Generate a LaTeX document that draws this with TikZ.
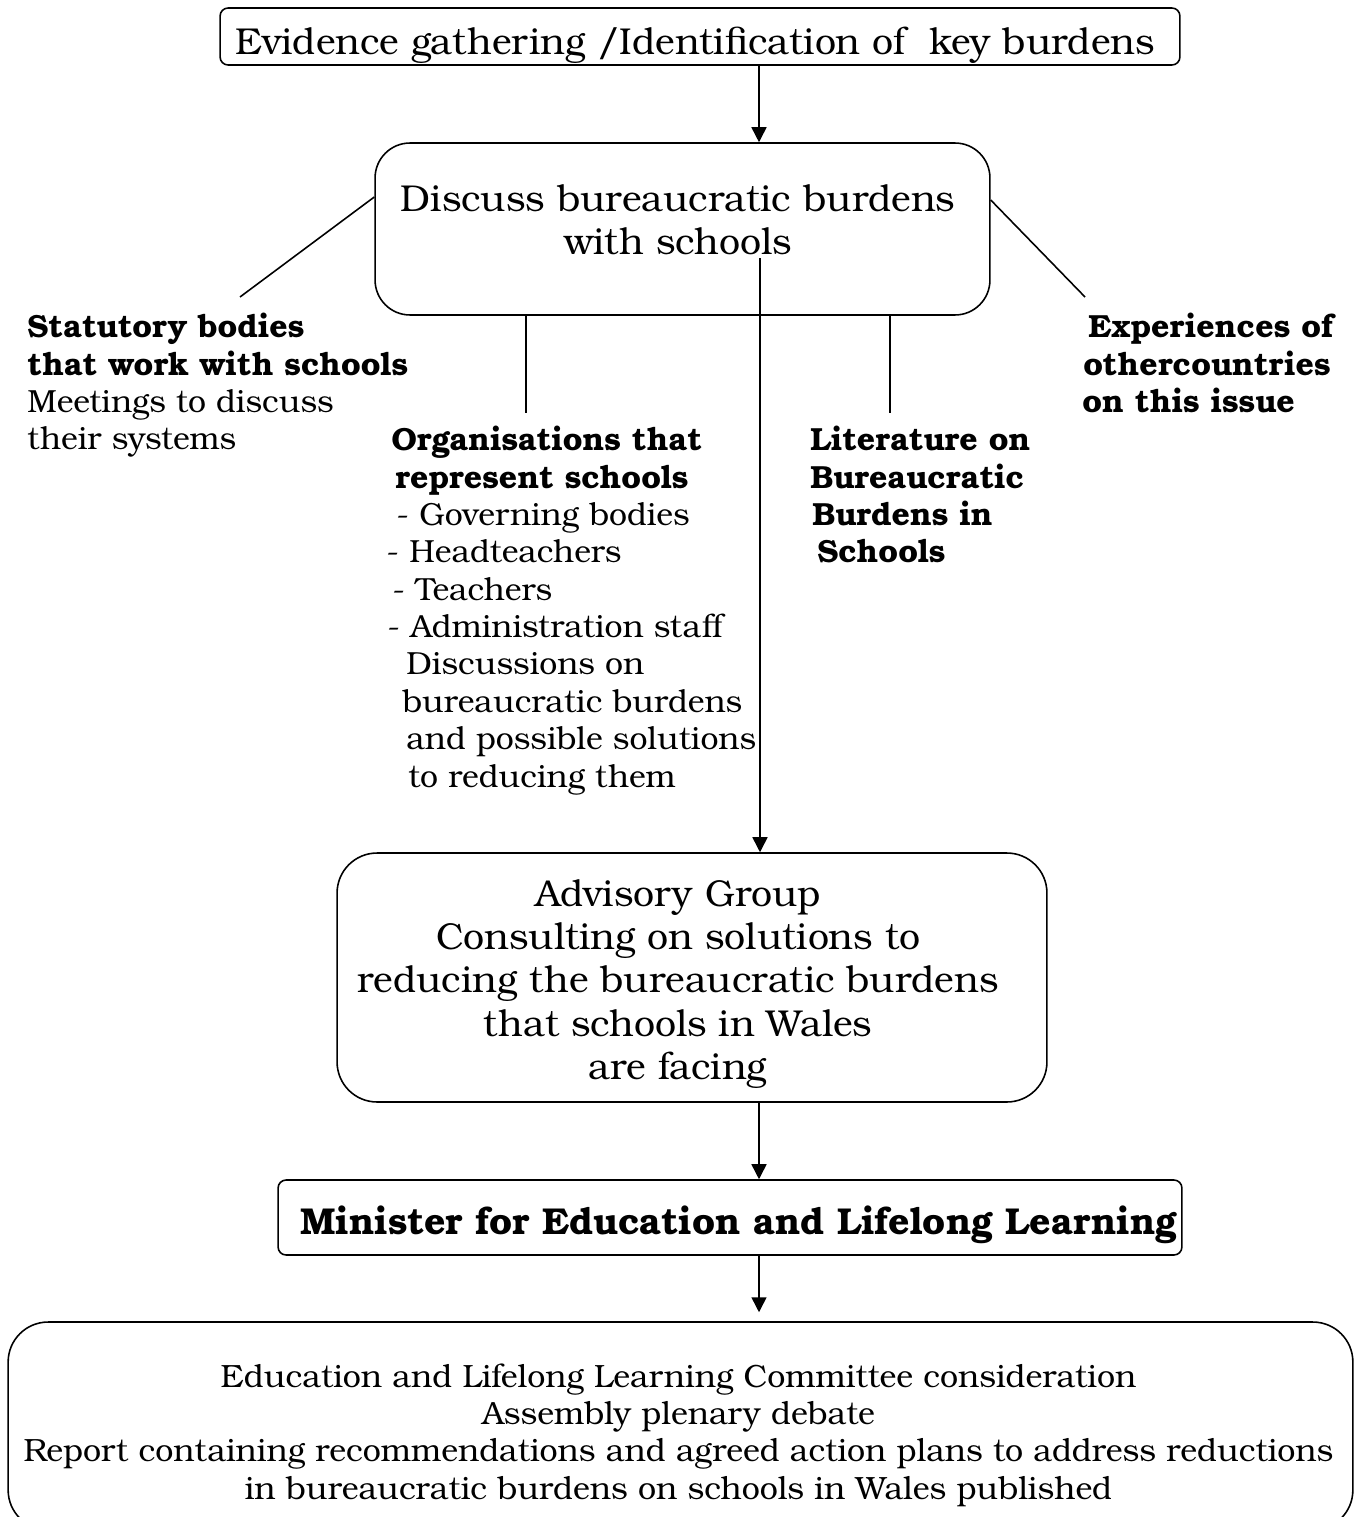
\documentclass[tikz,border=0pt]{standalone}
\usepackage{fontspec}
\setmainfont{TeX Gyre Bonum}
\usetikzlibrary{arrows.meta, positioning}

\begin{document}
\begin{tikzpicture}[
  x=0.02cm, y=-0.02cm,
  box/.style={rectangle, draw=black, line width=0.9pt, inner sep=0pt},
  big/.style={font=\fontsize{21.3}{24.7}\selectfont, align=center, inner sep=0pt},
  small/.style={font=\fontsize{18.2}{21.26}\selectfont, align=left, inner sep=0pt, anchor=north west},
  smallc/.style={font=\fontsize{18.3}{21.26}\selectfont, align=center, inner sep=0pt},
  arr/.style={-{Triangle[length=3mm, width=3mm]}, line width=0.9pt},
  link/.style={line width=0.9pt}
]
\useasboundingbox (0,0) rectangle (1361,1517);

% boxes
\node[box, rounded corners=0.16cm, minimum width=19.2cm, minimum height=1.14cm] (evidence) at (700,36.5) {};
\node[box, rounded corners=0.7cm, minimum width=12.3cm, minimum height=3.44cm] (discuss) at (682.5,229) {};
\node[box, rounded corners=0.8cm, minimum width=14.2cm, minimum height=4.98cm] (advisory) at (692,977.5) {};
\node[box, rounded corners=0.16cm, minimum width=18.08cm, minimum height=1.5cm] (minister) at (730,1217.5) {};
\node[box, rounded corners=0.8cm, minimum width=26.9cm, minimum height=4.16cm] (final) at (680.5,1426) {};

% box texts
\node[big] (evidencetext) at (695,45) {Evidence gathering /Identification of\ \ key burdens};
\node[big] (discusstext) at (678,220) {Discuss bureaucratic burdens\\with schools};
\node[big] (advisorytext) at (678,984) {Advisory Group\\Consulting on solutions to\\reducing the bureaucratic burdens\\that schools in Wales\\are facing};
\node[big] (ministertext) at (739,1225) {\textbf{Minister for Education and Lifelong Learning}};
\node[smallc] (finaltext) at (678.5,1435) {Education and Lifelong Learning Committee consideration\\Assembly plenary debate\\Report containing recommendations and agreed action plans to address reductions\\in bureaucratic burdens on schools in Wales published};

% sources round the discussion
\node[small] (statutory) at (27,313) {\textbf{Statutory bodies}\\\textbf{that work with schools}\\Meetings to discuss\\their systems};
\node[small] (organisations) at (386,426) {\hspace*{0.10cm}\textbf{Organisations that}\\
  \hspace*{0.18cm}\textbf{represent schools}\\
  \hspace*{0.20cm}- Governing bodies\\
  - Headteachers\\
  \hspace*{0.12cm}- Teachers\\
  \hspace*{0.02cm}- Administration staff\\
  \hspace*{0.40cm}Discussions on\\
  \hspace*{0.32cm}bureaucratic burdens\\
  \hspace*{0.40cm}and possible solutions\\
  \hspace*{0.44cm}to reducing them};
\node[small] (literature) at (810,426) {\textbf{Literature on}\\\textbf{Bureaucratic}\\\hspace*{0.04cm}\textbf{Burdens in}\\\hspace*{0.14cm}\textbf{Schools}};
\node[small] (experiences) at (1082,313) {\hspace*{0.12cm}\textbf{Experiences of}\\\hspace*{0.02cm}\textbf{othercountries}\\\textbf{on this issue}};

\coordinate (spine) at (759,0);
\coordinate (spinetop) at (760,258);
\coordinate (stattip) at (240,297);
\coordinate (exptip) at (1085,297);
\coordinate (orgtop) at (526,413);
\coordinate (littop) at (890,413);

% connectors
\draw[arr] (evidence.south -| spine) -- (discuss.north -| spine);
\draw[arr] (spinetop) -- (advisory.north -| spinetop);
\draw[arr] (advisory.south -| spine) -- (minister.north -| spine);
\draw[arr, shorten >=0.18cm] (minister.south -| spine) -- (final.north -| spine);
\draw[link] ([yshift=0.64cm]discuss.west) -- (stattip);
\draw[link] ([yshift=0.58cm]discuss.east) -- (exptip);
\draw[link] (discuss.south -| orgtop) -- (orgtop);
\draw[link] (discuss.south -| littop) -- (littop);
\end{tikzpicture}
\end{document}
